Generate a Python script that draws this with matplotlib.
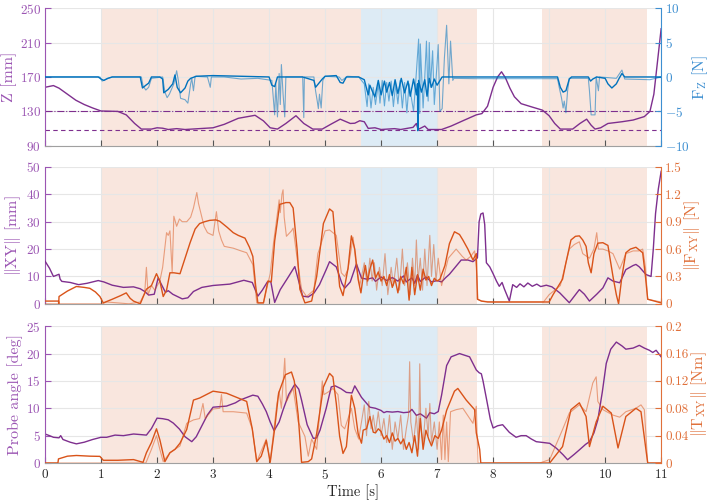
#!/usr/bin/env python3
import numpy as np
import matplotlib; matplotlib.use("Agg")
import matplotlib.pyplot as plt
plt.rcParams.update({"font.family":"serif","font.serif":["cmr10","DejaVu Serif"],
                     "mathtext.fontset":"cm","axes.unicode_minus":False,
                     "axes.formatter.use_mathtext":True,"font.size":9,
                     "axes.axisbelow":"line"})

# ---- phases (shaded spans) ----
pink_spans=[(1.0,5.65),(7.0,7.72),(8.88,10.75)]
blue_spans=[(5.65,7.0)]

# ---- top: Z height [mm] and Fz [N] ----
z_t=[0,0.15,0.25,0.4,0.55,0.7,0.85,1.0,1.3,1.45,1.6,1.72,1.9,2.0,2.1,2.2,2.35,2.5,3.0,3.2,3.45,3.75,3.9,4.02,
     4.15,4.3,4.48,4.62,4.78,4.95,5.1,5.27,5.45,5.53,5.62,5.7,5.77,5.89,6.0,6.24,6.35,6.48,6.57,6.63,6.66,6.78,6.84,
     7.08,7.25,7.49,7.7,7.8,7.9,8.0,8.08,8.15,8.22,8.3,8.38,8.5,8.7,8.88,9.0,9.1,9.2,9.42,9.55,9.67,9.75,9.82,
     9.92,10.05,10.3,10.5,10.7,10.8,10.87,10.93,11.0]
z_v=[158,160,157,150,143,138,134,130.5,130,126,116,109.5,109.5,111,110.5,109,110,109,111,115,122,125.5,119,111,
     109.5,116,125,116,109.5,109.5,115,121,116,116.3,119.2,118,110.3,111,109,110,109,110.5,111.5,116,109,113,109,
     109,113,120,126,127.5,136,158,170,176,169,157,147,139,135,131.5,125,116,109.5,109.5,116,121,114,109.5,
     111,116,118,120,124,130,150,185,226]
z_upper=130; z_lower=108

fz_t=[0,0.95,1.0,1.05,1.12,1.2,1.7,1.74,1.8,1.85,1.9,2.05,2.1,2.12,2.2,2.28,2.32,2.36,2.42,2.5,2.55,2.6,2.7,
      3.0,3.5,4.0,4.05,4.1,4.15,4.2,4.6,4.8,4.83,4.88,4.95,5.0,5.2,5.27,5.32,5.38,5.6,5.7,5.77,5.8,5.84,5.89,
      5.95,6.0,6.06,6.1,6.15,6.2,6.25,6.3,6.36,6.42,6.48,6.52,6.58,6.63,6.65,6.655,6.67,6.72,6.78,6.82,6.86,
      6.9,6.95,7.0,7.09,9.15,9.2,9.25,9.3,9.36,9.4,9.7,9.74,9.78,9.85,10.0,10.05,10.12,10.2,10.25,10.3,10.35,11.0]
fz_v=[0,0,-0.3,-0.5,-0.2,0,0,-1.6,-1.2,-0.9,0,0,-0.3,-2.3,-1.8,-1.0,0.3,-1.5,-2.3,-1.6,-0.6,-0.2,0.1,
      0.2,0.1,0,-1.2,-1.4,0,0,0,-0.5,-1.5,-1.0,-0.3,0.1,0.2,-0.8,-0.9,0,0,-0.4,-2.6,-1.2,-2.0,-2.9,
      -0.5,-2.6,-0.6,-2.2,-0.8,-2.7,-0.4,-2.4,-0.2,-2.3,-0.6,-2.8,-0.3,-2.6,-1.0,-7.8,-0.5,-2.2,-0.4,-2.8,-0.2,
      -1.5,-0.3,-1.2,0,0,-1.5,-2.2,-2.0,-0.3,0,0,-0.6,-0.3,0,-0.2,-1.0,-1.6,-1.0,-0.2,0.5,0,0]
fzl_t=[0,0.98,1.02,1.1,1.2,1.72,1.75,1.8,1.85,1.9,2.1,2.14,2.18,2.22,2.3,2.35,2.38,2.42,2.5,2.55,2.6,2.62,2.65,
       2.68,2.9,2.95,2.97,3.2,3.5,3.8,4.05,4.08,4.1,4.12,4.15,4.18,4.2,4.22,4.25,4.28,4.3,4.6,4.62,4.63,4.8,
       4.83,4.86,4.88,4.9,4.93,4.96,5.0,5.25,5.3,5.4,5.6,5.7,5.75,5.78,5.82,5.86,5.9,5.95,5.98,6.02,6.06,6.1,
       6.14,6.18,6.22,6.26,6.3,6.34,6.38,6.42,6.46,6.5,6.54,6.58,6.62,6.67,6.69,6.7,6.75,6.78,6.81,6.84,6.86,
       6.88,6.92,6.95,7.0,7.02,7.05,7.09,7.13,7.17,7.21,7.24,7.28,7.3,7.7,9.15,9.18,9.22,9.25,9.27,9.3,9.33,
       9.36,9.7,9.72,9.75,9.82,9.84,9.88,9.9,10.2,10.3,10.35,10.8,11.0]
fzl_v=[0,0,-0.6,-0.3,0,0,-1.3,-1.9,-1.5,-0.2,0,-2.2,-3.0,-2.5,-1.0,0.9,-0.5,-3.1,-3.3,-3.8,-1.0,-0.2,-2.0,
       0.1,0,-1.5,0,0,-0.3,-0.2,-0.5,-3.5,-5.5,-1.0,-5.8,0.5,-4.0,1.8,-2.5,-5.8,0,0,-5.9,0,0,
       -2.0,-3.5,-4.6,-2.5,-4.5,-0.5,0.1,0,-0.5,0.1,0,-1.0,-4.3,-1.0,-4.5,-1.5,-4.0,-1.0,-3.8,-0.5,-4.2,-0.8,
       -3.5,-0.6,-4.3,-1.0,-3.9,-0.5,-4.5,-0.8,-5.2,-1.0,-3.0,-5.0,-0.5,5.5,-5.3,4.8,-4.5,0,5.2,-3.5,5.0,
       -1.5,3.8,-4.0,2.0,4.7,-5.0,-4.6,2.7,7.5,-1.0,5.2,-0.5,-0.2,-0.25,-0.25,-1.5,-3.0,-4.5,-3.5,-5.2,-2.0,
       -0.2,-0.2,-2.0,-5.5,-5.5,0,-2.0,0,-0.2,1.0,-0.3,-0.4,0]

# ---- middle: ||XY|| [mm] and ||F_XY|| [N] ----
xy_t=[0,0.08,0.15,0.25,0.27,0.3,0.45,0.6,0.75,0.95,1.05,1.2,1.4,1.58,1.7,1.78,1.85,1.95,2.02,2.08,2.15,2.2,2.28,
      2.35,2.45,2.55,2.65,2.8,3.0,3.3,3.55,3.7,3.8,3.88,3.97,4.03,4.1,4.2,4.35,4.46,4.52,4.6,4.7,4.8,4.9,5.02,
      5.08,5.2,5.3,5.35,5.45,5.56,5.65,5.75,5.85,5.9,6.0,6.1,6.2,6.3,6.4,6.45,6.55,6.6,6.65,6.7,6.8,6.9,7.0,
      7.08,7.15,7.22,7.43,7.55,7.64,7.72,7.75,7.78,7.82,7.85,7.88,7.94,8.0,8.06,8.11,8.16,8.2,8.29,8.35,8.42,
      8.48,8.55,8.62,8.7,8.78,8.85,8.95,9.05,9.19,9.36,9.54,9.63,9.72,9.85,9.96,10.05,10.14,10.26,10.37,10.5,
      10.55,10.61,10.73,10.82,10.86,10.9,10.95,11.0]
xy_v=[15.6,13,10,10.8,9,8.2,7.8,7,7.5,8.5,8,6.8,6,6.2,5.5,4.5,3.2,3.5,9.5,7,4.2,4.8,3.5,
      2.8,1.8,2.2,4.5,6,6.7,7.2,8.6,7.8,2.8,5,8,8.2,0.5,5.2,10,13.6,9,2.8,2.5,3.9,7,12.5,
      15.4,13.5,7.5,5.7,8,14.6,9.4,9,9.5,8.2,9.8,8.5,9.6,8.3,10.2,8.0,9.5,7.5,10.5,8.2,9.8,8.0,8.5,
      8,9.5,10.8,16,16,15.4,16.8,30,32.8,33.2,29,15,13.5,11,8.3,6.4,7.8,5.5,1,7,6,
      7.3,6.2,7.6,6.4,7.2,6.3,6.8,6.2,4,0.4,5.2,3.5,1,3.5,5.8,9.5,8.3,7.7,12.5,14,
      14.4,13.5,10.7,10,20,33,42,48.4]

fxy_t=[0,0.24,0.245,0.25,0.4,0.56,0.7,0.8,0.9,0.98,1.04,1.2,1.35,1.45,1.52,1.58,1.7,1.81,1.9,1.99,2.05,2.11,
       2.17,2.23,2.3,2.41,2.5,2.59,2.68,2.76,2.85,2.94,3.05,3.12,3.25,3.36,3.45,3.57,3.65,3.71,3.76,3.8,3.9,
       3.98,4.04,4.1,4.19,4.3,4.37,4.43,4.5,4.55,4.64,4.76,4.85,4.97,5.08,5.14,5.2,5.26,5.32,5.41,5.47,5.53,
       5.59,5.64,5.68,5.72,5.76,5.8,5.85,5.9,5.95,6.0,6.05,6.1,6.15,6.2,6.25,6.3,6.35,6.4,6.45,6.5,6.55,6.6,
       6.65,6.7,6.75,6.8,6.85,6.9,6.95,7.0,7.05,7.14,7.22,7.31,7.4,7.46,7.55,7.64,7.7,7.72,7.79,7.9,9.0,9.07,
       9.15,9.24,9.3,9.39,9.47,9.54,9.6,9.66,9.7,9.75,9.8,9.87,9.96,10.05,10.14,10.2,10.24,10.3,10.37,10.45,
       10.55,10.67,10.72,10.76,11.0]
fxy_v=[0.03,0.03,0.0,0.08,0.14,0.19,0.18,0.17,0.13,0.08,0.01,0.05,0.09,0.12,0.06,0.03,0.0,0.16,0.2,0.33,0.25,0.08,
       0.15,0.34,0.34,0.33,0.5,0.67,0.82,0.88,0.9,0.915,0.92,0.905,0.84,0.78,0.75,0.72,0.62,0.52,0.2,0.01,0.01,
       0.25,0.24,0.69,1.09,1.11,1.11,1.05,0.6,0.16,0.01,0.03,0.3,0.88,1.04,1.01,0.59,0.19,0.09,0.39,0.745,0.6,
       0.27,0.12,0.3,0.42,0.25,0.38,0.48,0.28,0.35,0.25,0.3,0.2,0.32,0.18,0.27,0.12,0.3,0.22,0.4,0.04,0.4,0.1,
       0.32,0.15,0.38,0.26,0.3,0.2,0.28,0.25,0.27,0.42,0.66,0.79,0.76,0.7,0.6,0.48,0.55,0.05,0.03,0.02,0.02,0.1,
       0.18,0.27,0.45,0.7,0.74,0.745,0.7,0.63,0.45,0.34,0.55,0.665,0.67,0.64,0.3,0.1,0.0,0.3,0.56,0.6,
       0.62,0.56,0.3,0.05,0.01]
fxyl_t=[0,1.0,1.1,1.5,1.7,1.78,1.81,1.84,1.9,1.96,2.05,2.1,2.17,2.2,2.23,2.27,2.3,2.35,2.4,2.45,2.53,2.6,2.65,
        2.71,2.74,2.78,2.84,2.9,3.0,3.06,3.1,3.15,3.2,3.36,3.5,3.6,3.71,3.78,3.9,4.02,4.08,4.13,4.18,4.2,4.23,
        4.25,4.27,4.31,4.4,4.43,4.5,4.58,4.67,4.8,4.87,4.9,4.95,5.0,5.08,5.2,5.29,5.35,5.41,5.5,5.56,5.62,5.7,
        5.75,5.8,5.84,5.88,5.92,5.97,6.02,6.07,6.12,6.18,6.22,6.28,6.33,6.38,6.42,6.47,6.52,6.56,6.6,6.63,6.66,
        6.7,6.74,6.78,6.82,6.87,6.9,6.94,6.98,7.02,7.08,7.14,7.2,7.34,7.45,7.52,7.6,7.67,7.7,7.73,7.8,8.0,8.9,
        9.0,9.1,9.2,9.3,9.36,9.45,9.54,9.6,9.72,9.8,9.85,9.88,9.96,10.05,10.14,10.26,10.37,10.5,10.6,10.67,10.72,
        10.76,11.0]
fxyl_v=[0,0.0,0.02,0.0,0.02,0.12,0.4,0.1,0.2,0.15,0.25,0.4,0.78,0.75,0.8,0.35,0.96,0.85,0.93,0.9,0.9,0.95,1.05,
        1.22,1.1,1.0,0.85,0.78,0.75,1.01,0.8,0.7,0.63,0.61,0.58,0.56,0.43,0.01,0.01,0.33,0.67,0.9,1.14,1.0,1.2,
        1.25,0.95,0.74,0.8,0.83,0.5,0.16,0.08,0.15,0.55,0.6,0.7,0.8,0.81,0.75,0.34,0.3,0.38,0.73,0.4,0.2,0.45,
        0.2,0.5,0.25,0.45,0.15,0.4,0.2,0.55,0.1,0.4,0.2,0.5,0.15,0.6,0.2,0.45,0.1,0.5,0.2,0.7,0.25,
        0.5,0.15,0.6,0.2,0.75,0.3,0.65,0.25,0.5,0.2,0.35,0.5,0.6,0.52,0.48,0.52,0.58,0.4,0.05,0.03,0.02,0.02,
        0.1,0.15,0.2,0.45,0.6,0.65,0.68,0.55,0.5,0.6,0.78,0.6,0.6,0.58,0.55,0.38,0.55,0.58,0.58,0.6,0.4,
        0.05,0.02]

# ---- bottom: probe angle [deg] and ||T_XY|| [Nm] ----
ang_t=[0,0.08,0.15,0.25,0.28,0.32,0.45,0.56,0.7,0.85,1.0,1.1,1.25,1.4,1.58,1.7,1.81,1.9,2.0,2.1,2.2,2.29,2.4,2.5,
       2.62,2.7,2.8,2.9,3.0,3.24,3.4,3.48,3.71,3.8,3.88,3.95,4.02,4.09,4.18,4.25,4.35,4.46,4.53,4.58,4.68,4.79,
       4.85,4.91,5.02,5.11,5.18,5.28,5.38,5.48,5.53,5.65,5.8,5.9,6.0,6.05,6.1,6.2,6.3,6.4,6.5,6.55,6.63,6.7,
       6.81,6.87,6.95,7.02,7.08,7.17,7.25,7.4,7.58,7.7,7.75,7.79,7.82,7.88,7.95,8.0,8.08,8.17,8.29,8.41,8.5,
       8.59,8.68,8.77,9.01,9.13,9.25,9.33,9.45,9.54,9.65,9.72,9.8,9.87,9.95,10.02,10.1,10.2,10.3,10.37,10.5,
       10.61,10.7,10.79,10.85,10.91,11.0]
ang_v=[5.3,5.0,4.7,4.6,5.0,4.3,3.8,3.5,3.8,4.3,4.7,4.7,5.1,5.0,5.3,5.2,5.1,6.3,8.2,8.1,7.9,7.3,6.2,4.8,
       3.9,4.8,6.8,8.8,10.2,10.4,11,11.5,12.4,12.2,10.8,9.4,7.5,5.9,7.5,9.7,12.5,14.4,13.5,11.5,7,4.5,
       4.6,6,10,13.9,14.1,13.6,12.9,12.8,14.1,12,10.2,10.0,9.6,9.2,9.4,9.3,9.4,9.2,9.3,9.8,8.7,9.0,
       8.2,9.2,9.0,9.4,12.4,17.8,19.4,20,19.4,17,16.5,16.3,15,11.8,8,6.4,6.8,7.0,5.6,4.7,5.0,
       5.0,4.4,3.9,3.6,2.7,1.5,0.6,1.6,2.4,3.4,3.9,5.5,7.9,13,18.2,20.8,22.1,21.4,20.8,21,
       21.5,21.0,20.6,20.2,20.6,19.4]

txy_t=[0,0.23,0.24,0.4,0.56,0.8,0.98,1.04,1.3,1.58,1.75,1.81,1.9,1.99,2.05,2.14,2.23,2.32,2.41,2.53,2.65,2.76,2.88,
       3.0,3.24,3.36,3.6,3.7,3.78,3.86,3.95,4.02,4.1,4.17,4.29,4.4,4.45,4.52,4.58,4.7,4.76,4.85,4.97,5.08,5.14,
       5.2,5.26,5.32,5.38,5.47,5.53,5.59,5.65,5.68,5.74,5.8,5.86,5.9,5.95,6.0,6.05,6.1,6.15,6.2,6.25,6.3,6.35,
       6.4,6.45,6.5,6.55,6.6,6.65,6.7,6.75,6.8,6.85,6.9,6.96,7.02,7.08,7.17,7.31,7.37,7.52,7.67,7.7,7.76,7.78,
       9.01,9.24,9.39,9.54,9.66,9.72,9.84,9.96,10.11,10.23,10.37,10.55,10.64,10.76,11.0]
txy_v=[0,0,0.006,0.01,0.011,0.01,0.0097,0.004,0.004,0.005,0.001,0.015,0.03,0.05,0.034,0.002,0.015,0.02,0.029,0.049,
       0.092,0.095,0.1,0.105,0.102,0.098,0.09,0.05,0.002,0.01,0.033,0.001,0.05,0.102,0.129,0.133,0.12,0.07,0.001,
       0.002,0.006,0.043,0.111,0.131,0.126,0.087,0.039,0.014,0.024,0.099,0.08,0.043,0.029,0.048,0.05,0.068,0.045,
       0.044,0.05,0.046,0.035,0.04,0.03,0.044,0.032,0.036,0.028,0.035,0.02,0.03,0.015,0.04,0.01,0.065,0.02,0.048,
       0.035,0.025,0.04,0.036,0.048,0.077,0.105,0.109,0.092,0.078,0.044,0.02,0.0,0.0,0.024,0.078,0.088,0.068,
       0.024,0.06,0.083,0.073,0.022,0.068,0.08,0.075,0.0,0.0]
txyl_t=[0,1.8,1.9,1.99,2.05,2.11,2.23,2.41,2.53,2.65,2.76,2.82,2.86,3.0,3.12,3.15,3.18,3.36,3.6,3.7,3.78,3.95,4.02,
        4.14,4.18,4.22,4.28,4.31,4.43,4.52,4.64,4.7,4.76,4.85,4.92,4.95,4.98,5.08,5.14,5.23,5.29,5.35,5.47,5.53,
        5.6,5.65,5.7,5.74,5.78,5.82,5.86,5.9,5.95,6.0,6.05,6.1,6.15,6.2,6.25,6.3,6.35,6.4,6.45,6.49,6.51,6.53,
        6.58,6.63,6.67,6.69,6.71,6.75,6.8,6.84,6.87,6.9,6.95,7.0,7.04,7.08,7.11,7.14,7.17,7.2,7.24,7.34,7.46,
        7.64,7.7,7.73,8.83,9.01,9.24,9.36,9.54,9.66,9.78,9.84,9.87,9.96,10.14,10.26,10.37,10.55,10.64,10.7,10.76,11.0]
txyl_v=[0,0.0,0.02,0.04,0.02,0.002,0.015,0.025,0.058,0.063,0.065,0.087,0.065,0.079,0.08,0.1,0.075,0.075,0.073,0.05,0.002,
        0.035,0.002,0.087,0.105,0.08,0.153,0.09,0.109,0.06,0.039,0.01,0.035,0.02,0.09,0.12,0.1,0.105,0.109,0.1,0.055,
        0.05,0.08,0.05,0.035,0.06,0.085,0.04,0.09,0.05,0.07,0.045,0.075,0.04,0.065,0.03,0.07,0.02,0.06,0.035,0.07,
        0.02,0.05,0.07,0.148,0.06,0.03,0.07,0.02,0.145,0.05,0.03,0.08,0.04,0.087,0.03,0.06,0.02,0.06,0.005,
        0.07,0.005,0.06,0.002,0.075,0.078,0.08,0.058,0.083,0.0,0.0,0.005,0.049,0.073,0.085,0.075,0.117,0.126,
        0.09,0.078,0.07,0.067,0.075,0.08,0.085,0.078,0.0,0.0]

PURPLE="#7E2F8E"; PURPLE_AX="#9B55B3"
ORANGE="#D95319"; ORANGE_AX="#E0703A"
BLUE="#0072BD";   BLUE_AX="#3D8FD1"
GRIDC="#E6E6E6"

fig=plt.figure(figsize=(7.09,5.03),dpi=100)
L,W=0.0635,0.869
boxes=[(0.710,0.274),(0.396,0.272),(0.0795,0.272)]

def panel(box,ylim_l,yt_l,ylim_r,yt_r,rcol,last):
    ax=fig.add_axes([L,box[0],W,box[1]])
    for a,b in pink_spans: ax.axvspan(a,b,color="#F9E6DE",lw=0,zorder=0.5)
    for a,b in blue_spans: ax.axvspan(a,b,color="#DDEBF5",lw=0,zorder=0.5)
    ax.set_xlim(0,11); ax.set_ylim(*ylim_l); ax.set_yticks(yt_l); ax.set_xticks(range(12))
    ax.grid(True,color=GRIDC,lw=0.8)
    ax.spines["top"].set_visible(False); ax.spines["right"].set_visible(False)
    ax.spines["left"].set_color(PURPLE_AX); ax.spines["bottom"].set_color("#A0A0A0")
    ax.tick_params(axis="y",direction="in",colors=PURPLE_AX,length=4,labelsize=9.5,pad=3)
    ax.tick_params(axis="x",direction="in",colors="#555555",length=4,labelsize=9.5,labelcolor="#262626")
    if not last: ax.tick_params(axis="x",labelbottom=False)
    ax2=ax.twinx()
    ax2.set_ylim(*ylim_r); ax2.set_yticks(yt_r)
    for s in ("top","left","bottom"): ax2.spines[s].set_visible(False)
    ax2.spines["right"].set_color(rcol)
    ax2.tick_params(axis="y",direction="in",colors=rcol,length=4,labelsize=9.5,pad=3)
    return ax,ax2

YL=11.5
ax,ax2=panel(boxes[0],(90,250),[90,130,170,210,250],(-10,10),[-10,-5,0,5,10],BLUE_AX,False)
ax.plot(z_t,z_v,color=PURPLE,lw=1.0)
ax.axhline(z_upper,color=PURPLE,lw=0.8,ls="-.")
ax.axhline(z_lower,color=PURPLE,lw=0.8,ls=(0,(4,3)))
ax2.plot(fzl_t,fzl_v,color=BLUE,lw=0.8,alpha=0.55)
ax2.plot(fz_t,fz_v,color=BLUE,lw=1.0)
ax.set_ylabel("Z [mm]",color=PURPLE_AX,fontsize=YL,labelpad=2)
ax2.set_ylabel(r"F$_\mathrm{Z}$ [N]",color=BLUE_AX,fontsize=YL,labelpad=0)

ax,ax2=panel(boxes[1],(0,50),range(0,51,10),(0,1.5),[0,0.3,0.6,0.9,1.2,1.5],ORANGE_AX,False)
ax.plot(xy_t,xy_v,color=PURPLE,lw=1.0,zorder=3)
ax2.plot(fxyl_t,fxyl_v,color=ORANGE,lw=0.8,alpha=0.5)
ax2.plot(fxy_t,fxy_v,color=ORANGE,lw=1.0)
ax2.set_yticklabels(["0","0.3","0.6","0.9","1.2","1.5"])
ax.set_ylabel(r"$\Vert$XY$\Vert$ [mm]",color=PURPLE_AX,fontsize=YL,labelpad=2)
ax2.set_ylabel(r"$\Vert$F$_\mathrm{XY}\Vert$ [N]",color=ORANGE_AX,fontsize=YL,labelpad=0)

ax,ax2=panel(boxes[2],(0,25),range(0,26,5),(0,0.2),[0,0.04,0.08,0.12,0.16,0.2],ORANGE_AX,True)
ax.plot(ang_t,ang_v,color=PURPLE,lw=1.0)
ax2.plot(txyl_t,txyl_v,color=ORANGE,lw=0.8,alpha=0.5)
ax2.plot(txy_t,txy_v,color=ORANGE,lw=1.0)
ax2.set_yticklabels(["0","0.04","0.08","0.12","0.16","0.2"])
ax.set_ylabel("Probe angle [deg]",color=PURPLE_AX,fontsize=YL,labelpad=2)
ax2.set_ylabel(r"$\Vert$T$_\mathrm{XY}\Vert$ [Nm]",color=ORANGE_AX,fontsize=YL,labelpad=0)
ax.set_xlabel("Time [s]",fontsize=10.5,color="#262626",labelpad=2)

fig.savefig("out.png",dpi=100)
